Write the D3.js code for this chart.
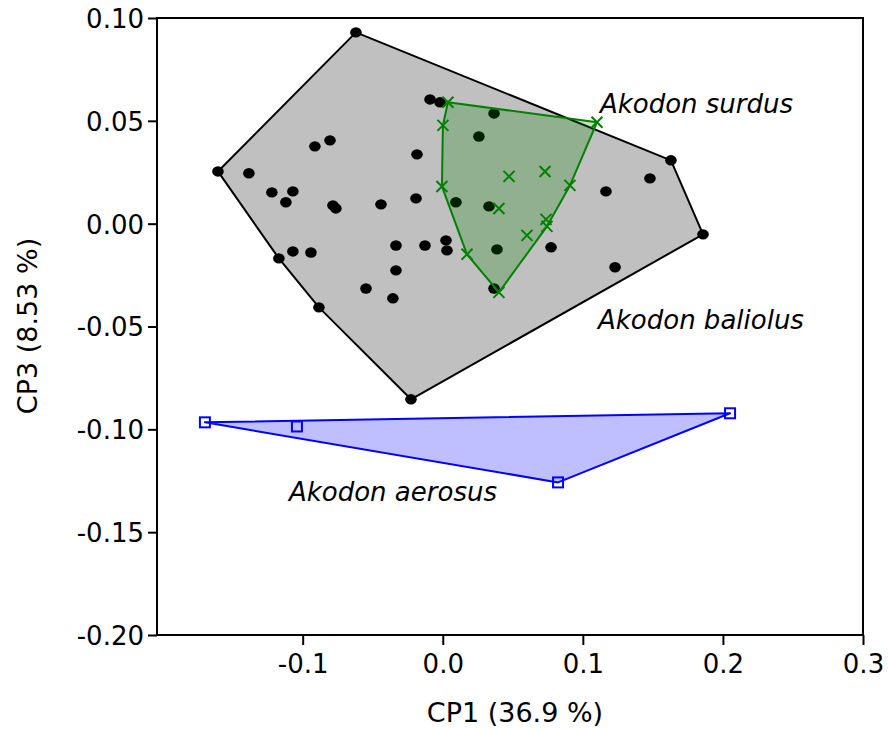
<!DOCTYPE html>
<html><head><meta charset="utf-8">
<script src="https://cdn.jsdelivr.net/npm/d3@7"></script>
<style>html,body{margin:0;padding:0;background:#fff;}svg{display:block;}</style>
</head><body>
<svg id="chart" width="888" height="729"></svg>
<script>
// Akodon baliolus (black dots)
const baliolusX = [-0.0620,-0.1605,-0.1384,-0.0913,-0.0805,-0.1220,-0.1070,-0.1120,-0.0784,-0.0763,-0.0441,-0.0334,-0.1070,-0.0941,-0.1170,-0.0334,-0.0548,-0.0356,-0.0884,-0.0227,-0.0191,-0.0091,-0.0020,0.0366,0.0258,-0.0184,0.0094,0.0330,-0.0127,0.0023,0.0030,0.0387,0.0773,0.1230,0.0366,0.1629,0.1479,0.1165,0.1858];
const baliolusY = [0.0930,0.0254,0.0245,0.0376,0.0405,0.0152,0.0157,0.0104,0.0089,0.0074,0.0094,-0.0106,-0.0135,-0.0140,-0.0169,-0.0227,-0.0315,-0.0363,-0.0407,-0.0854,0.0123,0.0604,0.0590,0.0536,0.0424,0.0337,0.0104,0.0084,-0.0106,-0.0081,-0.0130,-0.0125,-0.0115,-0.0212,-0.0315,0.0308,0.0220,0.0157,-0.0052];
// Akodon surdus (green crosses)
const surdusX = [0.0037,0.0001,-0.0006,0.0473,0.0730,0.0401,0.0173,0.0601,0.0737,0.0744,0.1101,0.0908,0.0401];
const surdusY = [0.0590,0.0478,0.0181,0.0230,0.0254,0.0074,-0.0149,-0.0057,0.0021,-0.0013,0.0493,0.0186,-0.0334];
// Akodon aerosus (blue squares)
const aerosusX = [-0.1698,-0.1041,0.0823,0.2051];
const aerosusY = [-0.0966,-0.0986,-0.1258,-0.0922];

const xTicks = [-0.1,0.0,0.1,0.2,0.3];
const yTicks = [0.10,0.05,0.00,-0.05,-0.10,-0.15,-0.20];
const xTitle = "CP1 (36.9 %)";
const yTitle = "CP3 (8.53 %)";
const speciesLabels = ["Akodon surdus","Akodon baliolus","Akodon aerosus"];
const labelX = [0.1122,0.1108,-0.1098];
const labelY = [0.0540,-0.0514,-0.1350];

const svg = d3.select("#chart");
const pL=157, pR=863, pT=18, pB=635;
const x = d3.scaleLinear().domain([-0.204,0.3]).range([pL,pR]);
const y = d3.scaleLinear().domain([-0.2,0.1]).range([pB,pT]);
const font = "'DejaVu Sans', Verdana, sans-serif";

function pts(xs,ys){return xs.map((v,i)=>[x(v),y(ys[i])]);}
const bal = pts(baliolusX,baliolusY);
const sur = pts(surdusX,surdusY);
const aer = pts(aerosusX,aerosusY);

const line = d3.line().curve(d3.curveLinearClosed);
svg.append("path").attr("d",line(d3.polygonHull(bal))).attr("fill","#c0c0c0").attr("stroke","#000").attr("stroke-width",2).attr("stroke-linejoin","round");
svg.append("path").attr("d",line(d3.polygonHull(aer))).attr("fill","rgba(0,0,255,0.25)").attr("stroke","#0000ff").attr("stroke-width",2).attr("stroke-linejoin","round");

svg.append("g").selectAll("ellipse").data(bal).join("ellipse")
  .attr("cx",d=>d[0]).attr("cy",d=>d[1]).attr("rx",5.8).attr("ry",5.2).attr("fill","#000");

svg.append("path").attr("d",line(d3.polygonHull(sur))).attr("fill","rgba(0,128,0,0.25)").attr("stroke","#008000").attr("stroke-width",2).attr("stroke-linejoin","round");

const cs=5.5;
svg.append("g").selectAll("path").data(sur).join("path")
  .attr("d",d=>`M${d[0]-cs},${d[1]-cs}L${d[0]+cs},${d[1]+cs}M${d[0]-cs},${d[1]+cs}L${d[0]+cs},${d[1]-cs}`)
  .attr("stroke","#008000").attr("stroke-width",2).attr("fill","none");

const sq=5;
svg.append("g").selectAll("rect").data(aer).join("rect")
  .attr("x",d=>d[0]-sq).attr("y",d=>d[1]-sq).attr("width",2*sq).attr("height",2*sq)
  .attr("fill","none").attr("stroke","#0000ff").attr("stroke-width",2);

svg.append("rect").attr("x",pL).attr("y",pT).attr("width",pR-pL).attr("height",pB-pT)
  .attr("fill","none").attr("stroke","#000").attr("stroke-width",2);

const xAxis = d3.axisBottom(x).tickValues(xTicks).tickSize(10).tickSizeOuter(0);
const gx = svg.append("g").attr("transform",`translate(0,${pB})`).call(xAxis);
const yAxis = d3.axisLeft(y).tickValues(yTicks).tickSize(9).tickSizeOuter(0);
const gy = svg.append("g").attr("transform",`translate(${pL},0)`).call(yAxis);
gx.select(".domain").remove(); gy.select(".domain").remove();
[gx,gy].forEach(g=>{
  g.selectAll(".tick line").attr("stroke","#000").attr("stroke-width",2);
  g.selectAll(".tick text").attr("font-family",font).attr("font-size",26).attr("fill","#000");
});
gx.selectAll(".tick text").attr("y",13).attr("dy","0.95em").text(d=>d3.format(".1f")(d).replace("\u2212","-"));
gy.selectAll(".tick text").attr("x",-13).attr("dy","0.36em").text(d=>d3.format(".2f")(d).replace("\u2212","-"));

svg.append("text").attr("x",515).attr("y",722).attr("text-anchor","middle")
  .attr("font-family",font).attr("font-size",27).text(xTitle);
svg.append("text").attr("transform","translate(37,326) rotate(-90)").attr("text-anchor","middle")
  .attr("font-family",font).attr("font-size",27).text(yTitle);

svg.append("g").selectAll("text").data(speciesLabels).join("text")
  .attr("x",(d,i)=>x(labelX[i])).attr("y",(d,i)=>y(labelY[i]))
  .attr("font-family",font).attr("font-size",26).attr("font-style","italic").text(d=>d);
</script>
</body></html>
